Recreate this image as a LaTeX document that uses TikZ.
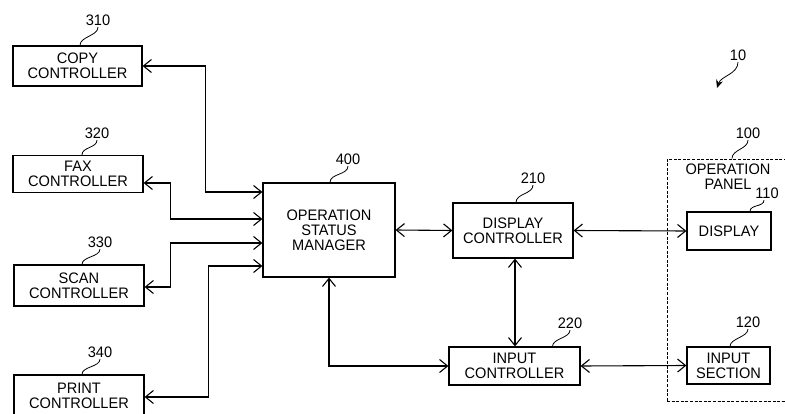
\documentclass[tikz,border=0pt]{standalone}
\usepackage{fontspec}
\setmainfont{Liberation Sans}[FakeStretch=0.96]
\usetikzlibrary{arrows.meta, positioning, calc}

\begin{document}
\begin{tikzpicture}[
        x=1pt, y=-1pt,
        font=\fontsize{15.2}{15}\selectfont,
        >={Straight Barb[length=8pt,width=13pt]},
        unit/.style={draw, line width=1.2pt, align=center, inner sep=0pt},
        panel/.style={draw, line width=0.9pt, dash pattern=on 3pt off 1.6pt},
        num/.style={inner sep=1.5pt},
        leader/.style={line width=0.8pt},
        link/.style={line width=1.1pt, <->}
    ]
      \useasboundingbox[fill=white] (0,0) rectangle (785,414);

      % --- Job controllers (left column) ---
      \node[unit, minimum width=129pt, minimum height=40pt] (copy)  at (77.5,66)  {COPY\\CONTROLLER};
      \node[unit, minimum width=130pt, minimum height=37pt] (fax)   at (78,174)   {FAX\\CONTROLLER};
      \node[unit, minimum width=130pt, minimum height=41pt] (scan)  at (79,285.5) {SCAN\\CONTROLLER};
      \node[unit, minimum width=130pt, minimum height=42pt] (print) at (79,396)   {PRINT\\CONTROLLER};

      % --- Manager and UI controllers ---
      \node[unit, minimum width=132pt, minimum height=94pt] (osm) at (329,230)   {OPERATION\\STATUS\\MANAGER};
      \node[unit, minimum width=120pt, minimum height=55pt] (dc)  at (513,230.5) {DISPLAY\\CONTROLLER};
      \node[unit, minimum width=131pt, minimum height=38pt] (ic)  at (514.5,366) {INPUT\\CONTROLLER};

      % --- Operation panel ---
      \node[panel, minimum width=123pt, minimum height=242pt] (pnl) at (728.5,280) {};
      \node[align=center, inner sep=0pt] (pnltxt) at (728,177) {OPERATION\\PANEL};
      \node[unit, minimum width=84pt, minimum height=38pt] (disp) at (729,231)   {DISPLAY};
      \node[unit, minimum width=83pt, minimum height=37pt] (isec) at (728.5,365.5) {INPUT\\SECTION};

      % Controller buses into the manager
      \draw[link] (copy.east) -- ++(63,0) |- ([yshift=38pt]osm.west);
      \draw[link] ([yshift=-9pt]fax.east) -- ++(27,0) |- ([yshift=11pt]osm.west);
      \draw[link] ([yshift=-1.5pt]scan.east) -- ++(26,0) |- ([yshift=-13pt]osm.west);
      \draw[link] ([yshift=-1pt]print.east) -- ++(64,0) |- ([yshift=-36pt]osm.west);

      % Manager / controllers / panel
      \draw[link] (osm.east) -- (dc.west);
      \draw[link] (dc.east) -- (disp.west);
      \draw[link] ([xshift=2pt]dc.south) -- ([xshift=2pt]dc.south |- ic.north);
      \draw[link] (osm.south) |- (ic.west);
      \draw[link] (ic.east) -- (isec.west);

      % --- Reference numerals ---
      \node[num] (n310) at (98,20)  {310};
      \node[num] (n320) at (97,133) {320};
      \node[num] (n330) at (100,242) {330};
      \node[num] (n340) at (100,352) {340};
      \node[num] (n400) at (348,159) {400};
      \node[num] (n210) at (533,178) {210};
      \node[num] (n220) at (570,323) {220};
      \node[num] (n120) at (748,322) {120};
      \node[num] (n110) at (767,193) {110};
      \node[num] (n100) at (748,133) {100};
      \node[num] (n10)  at (738,55)  {10};

      \draw[leader] ([xshift=2.5pt]copy.north)  .. controls +(0,-9) and +(0,9) .. (n310.south);
      \draw[leader] ([xshift=4pt]fax.north)     .. controls +(0,-8) and +(0,8) .. (n320.south);
      \draw[leader] ([xshift=3pt]scan.north)    .. controls +(0,-8) and +(0,8) .. (n330.south);
      \draw[leader] ([xshift=3pt]print.north)   .. controls +(0,-8) and +(0,8) .. (n340.south);
      \draw[leader] ([xshift=1pt]osm.north)     .. controls +(0,-9) and +(0,9) .. (n400.south);
      \draw[leader] ([xshift=3pt]dc.north)      .. controls +(0,-9) and +(0,9) .. (n210.south);
      \draw[leader] ([xshift=38pt]ic.north)     .. controls +(0,-8) and +(0,8) .. (n220.south);
      \draw[leader] ([xshift=1.5pt]isec.north)  .. controls +(0,-8) and +(0,8) .. (n120.south);
      \draw[leader] ([xshift=21pt]disp.north)   .. controls +(0,-7) and +(0,7) .. ([xshift=-3pt]n110.south);
      \draw[leader] ([xshift=3.5pt]pnl.north)   .. controls +(0,-9) and +(0,9) .. (n100.south);

      \coordinate (sys) at (717,88);
      \draw[leader, -{Stealth[length=8pt,width=7pt]}] (n10.south) .. controls +(0,12) and +(4,-12) .. (sys);
    \end{tikzpicture}
\end{document}
